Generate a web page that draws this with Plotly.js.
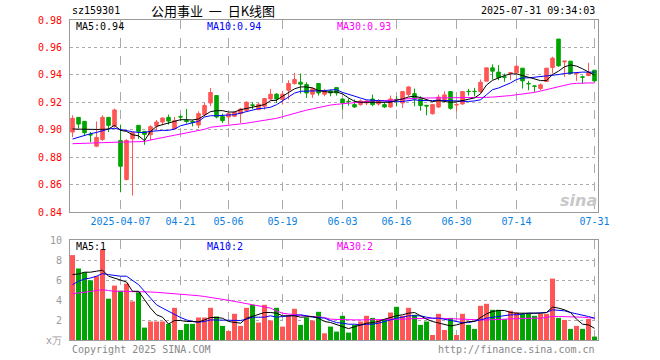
<!DOCTYPE html>
<html>
<head>
<meta charset="utf-8">
<script src="https://cdn.plot.ly/plotly-3.0.1.min.js"></script>
<style>
html,body{margin:0;padding:0;background:#fff;}
#chart{width:660px;height:360px;}
</style>
</head>
<body>
<div id="chart"></div>
<script>
const dates = [
"2025-03-25","2025-03-26","2025-03-27","2025-03-28","2025-03-31",
"2025-04-01","2025-04-02","2025-04-03","2025-04-07","2025-04-08","2025-04-09","2025-04-10","2025-04-11",
"2025-04-14","2025-04-15","2025-04-16","2025-04-17","2025-04-18","2025-04-21","2025-04-22","2025-04-23",
"2025-04-24","2025-04-25","2025-04-28","2025-04-29","2025-04-30",
"2025-05-06","2025-05-07","2025-05-08","2025-05-09","2025-05-12","2025-05-13","2025-05-14","2025-05-15",
"2025-05-16","2025-05-19","2025-05-20","2025-05-21","2025-05-22","2025-05-23","2025-05-26","2025-05-27",
"2025-05-28","2025-05-29","2025-05-30",
"2025-06-03","2025-06-04","2025-06-05","2025-06-06","2025-06-09","2025-06-10","2025-06-11","2025-06-12",
"2025-06-13","2025-06-16","2025-06-17","2025-06-18","2025-06-19","2025-06-20","2025-06-23","2025-06-24",
"2025-06-25","2025-06-26","2025-06-27","2025-06-30",
"2025-07-01","2025-07-02","2025-07-03","2025-07-04","2025-07-07","2025-07-08","2025-07-09","2025-07-10",
"2025-07-11","2025-07-14","2025-07-15","2025-07-16","2025-07-17","2025-07-18","2025-07-21","2025-07-22",
"2025-07-23","2025-07-24","2025-07-25","2025-07-28","2025-07-29","2025-07-30","2025-07-31"];

const openP = [0.8983,0.9090,0.9061,0.8965,0.8880,0.8929,0.9090,0.9027,0.8922,0.8637,
0.8934,0.9032,0.8988,0.8963,0.9027,0.9056,0.9090,0.9005,0.9095,0.9068,
0.9060,0.9034,0.9110,0.9195,0.9249,0.9098,0.9093,0.9098,0.9117,0.9141,
0.9181,0.9146,0.9171,0.9224,0.9259,0.9220,0.9288,0.9337,0.9346,0.9329,
0.9259,0.9337,0.9259,0.9283,0.9307,0.9224,0.9207,0.9183,0.9183,0.9195,
0.9224,0.9188,0.9183,0.9166,0.9222,0.9195,0.9256,0.9263,0.9224,0.9178,
0.9117,0.9166,0.9220,0.9278,0.9181,0.9188,0.9280,0.9280,0.9278,0.9354,
0.9451,0.9420,0.9385,0.9410,0.9415,0.9449,0.9337,0.9319,0.9300,0.9351,
0.9454,0.9661,0.9495,0.9500,0.9408,0.9385,0.9395,0.9434];
const highP = [0.9105,0.9090,0.9061,0.8983,0.9060,0.9105,0.9090,0.9154,0.9037,0.8930,
0.8983,0.9032,0.8990,0.9032,0.9071,0.9090,0.9110,0.9093,0.9110,0.9152,
0.9073,0.9134,0.9195,0.9305,0.9249,0.9117,0.9122,0.9134,0.9159,0.9207,
0.9200,0.9195,0.9232,0.9298,0.9268,0.9283,0.9361,0.9415,0.9410,0.9346,
0.9307,0.9337,0.9298,0.9293,0.9307,0.9224,0.9227,0.9220,0.9220,0.9215,
0.9256,0.9224,0.9195,0.9249,0.9244,0.9280,0.9317,0.9300,0.9244,0.9178,
0.9188,0.9256,0.9280,0.9280,0.9195,0.9280,0.9298,0.9305,0.9366,0.9451,
0.9476,0.9471,0.9410,0.9415,0.9471,0.9449,0.9356,0.9324,0.9337,0.9449,
0.9532,0.9661,0.9500,0.9500,0.9410,0.9395,0.9488,0.9434];
const lowP = [0.8946,0.9010,0.8954,0.8910,0.8873,0.8919,0.8983,0.9015,0.8544,0.8630,
0.8520,0.8934,0.8890,0.8922,0.8995,0.9032,0.9037,0.9005,0.9063,0.9045,
0.9024,0.9012,0.9098,0.9171,0.9083,0.9049,0.9037,0.9093,0.9049,0.9134,
0.9151,0.9146,0.9146,0.9219,0.9195,0.9183,0.9220,0.9329,0.9263,0.9232,
0.9232,0.9249,0.9244,0.9244,0.9249,0.9146,0.9176,0.9159,0.9176,0.9180,
0.9171,0.9176,0.9159,0.9159,0.9171,0.9159,0.9244,0.9171,0.9139,0.9105,
0.9110,0.9159,0.9207,0.9146,0.9134,0.9180,0.9249,0.9244,0.9268,0.9354,
0.9366,0.9361,0.9349,0.9361,0.9410,0.9300,0.9288,0.9276,0.9288,0.9351,
0.9410,0.9459,0.9385,0.9410,0.9356,0.9337,0.9390,0.9349];
const closeP = [0.9083,0.9041,0.8978,0.8962,0.8944,0.9090,0.9032,0.9144,0.8734,0.8922,
0.8978,0.8988,0.8966,0.9022,0.9056,0.9085,0.9063,0.9066,0.9093,0.9060,
0.9055,0.9117,0.9176,0.9271,0.9093,0.9066,0.9117,0.9127,0.9151,0.9200,
0.9178,0.9185,0.9227,0.9259,0.9224,0.9259,0.9337,0.9366,0.9332,0.9268,
0.9298,0.9268,0.9283,0.9268,0.9268,0.9195,0.9205,0.9166,0.9210,0.9210,
0.9183,0.9210,0.9166,0.9224,0.9219,0.9278,0.9312,0.9224,0.9176,0.9173,
0.9183,0.9237,0.9254,0.9156,0.9183,0.9278,0.9278,0.9278,0.9346,0.9451,
0.9427,0.9380,0.9383,0.9415,0.9463,0.9356,0.9335,0.9317,0.9327,0.9449,
0.9522,0.9466,0.9500,0.9410,0.9410,0.9383,0.9415,0.9356];

const ma5 = [0.9005,0.9003,0.9002,0.9000,0.9002,0.9003,0.9005,0.9032,0.8995,0.8988,
0.8963,0.8956,0.8920,0.8988,0.9024,0.9037,0.9049,0.9061,0.9073,0.9073,
0.9071,0.9078,0.9102,0.9132,0.9139,0.9139,0.9129,0.9129,0.9146,0.9156,
0.9166,0.9176,0.9183,0.9212,0.9215,0.9244,0.9268,0.9298,0.9312,0.9312,
0.9305,0.9285,0.9278,0.9273,0.9276,0.9261,0.9232,0.9207,0.9200,0.9200,
0.9198,0.9198,0.9198,0.9200,0.9215,0.9224,0.9239,0.9244,0.9234,0.9220,
0.9205,0.9212,0.9207,0.9200,0.9203,0.9214,0.9220,0.9232,0.9262,0.9326,
0.9360,0.9378,0.9395,0.9407,0.9407,0.9395,0.9383,0.9375,0.9358,0.9358,
0.9402,0.9427,0.9459,0.9472,0.9464,0.9444,0.9420,0.9398];
const ma10 = [0.8932,0.8946,0.8960,0.8971,0.8980,0.8993,0.9005,0.9010,0.9000,0.8995,
0.8985,0.8980,0.8980,0.8988,0.8993,0.8995,0.8995,0.9005,0.9029,0.9041,
0.9049,0.9061,0.9093,0.9102,0.9102,0.9107,0.9107,0.9110,0.9122,0.9134,
0.9144,0.9154,0.9157,0.9164,0.9182,0.9211,0.9243,0.9267,0.9280,0.9280,
0.9280,0.9282,0.9285,0.9290,0.9292,0.9272,0.9260,0.9248,0.9231,0.9218,
0.9213,0.9212,0.9209,0.9204,0.9204,0.9206,0.9213,0.9218,0.9213,0.9211,
0.9212,0.9215,0.9213,0.9208,0.9206,0.9205,0.9206,0.9210,0.9218,0.9255,
0.9292,0.9304,0.9321,0.9341,0.9366,0.9378,0.9378,0.9383,0.9383,0.9390,
0.9395,0.9402,0.9410,0.9415,0.9415,0.9420,0.9420,0.9420];
const ma30 = [0.8898,0.8900,0.8902,0.8905,0.8907,0.8908,0.8910,0.8910,0.8910,0.8910,
0.8911,0.8912,0.8914,0.8925,0.8935,0.8943,0.8952,0.8960,0.8968,0.8976,
0.8985,0.8993,0.9003,0.9018,0.9022,0.9026,0.9031,0.9036,0.9042,0.9048,
0.9055,0.9062,0.9068,0.9074,0.9083,0.9095,0.9108,0.9120,0.9133,0.9143,
0.9152,0.9163,0.9174,0.9180,0.9185,0.9189,0.9194,0.9200,0.9206,0.9210,
0.9213,0.9213,0.9213,0.9214,0.9218,0.9223,0.9227,0.9231,0.9231,0.9231,
0.9231,0.9231,0.9231,0.9231,0.9231,0.9231,0.9232,0.9233,0.9234,0.9236,
0.9238,0.9240,0.9243,0.9249,0.9255,0.9260,0.9266,0.9272,0.9282,0.9292,
0.9302,0.9312,0.9323,0.9334,0.9338,0.9341,0.9341,0.9341];

const volume = [8.49,7.15,6.78,5.97,6.38,9.06,4.13,5.44,4.93,5.64,
3.86,4.77,1.24,1.85,1.85,1.85,1.61,3.22,1.00,1.61,
1.61,2.25,2.25,3.22,2.35,1.41,0.90,2.62,1.41,3.22,
3.52,1.74,3.52,1.95,3.22,1.34,2.42,3.12,1.51,2.25,
1.95,2.82,0.67,1.34,0.84,2.42,0.74,1.51,1.85,2.42,
2.21,2.01,2.01,2.75,3.32,2.42,3.22,2.52,1.51,1.85,
0.50,2.62,1.00,2.21,0.50,2.62,1.51,1.11,3.42,3.62,
3.02,3.02,2.08,2.92,2.75,2.62,2.62,2.42,2.62,2.62,
6.14,2.21,2.01,1.11,1.41,1.11,2.11,0.34];
const vma5 = [6.54,6.60,6.78,6.78,6.88,6.98,6.38,6.20,6.04,5.80,
4.87,4.87,4.03,3.19,2.52,2.28,1.60,1.95,1.95,1.85,
1.85,1.81,2.01,2.25,2.25,2.18,1.85,1.74,1.68,2.18,
2.35,2.58,2.75,2.75,2.68,2.42,2.42,2.42,2.28,2.35,
2.35,2.18,1.85,1.75,1.51,1.34,1.14,1.34,1.51,1.68,
1.74,1.85,2.08,2.28,2.42,2.52,2.68,2.75,2.42,2.08,
1.85,1.68,1.58,1.41,1.51,1.68,1.85,1.85,2.28,2.62,
2.85,2.95,2.95,2.75,2.68,2.68,2.62,2.68,2.68,2.75,
3.29,3.19,3.02,2.75,2.08,1.58,1.51,1.17];
const vma10 = [5.54,5.87,6.10,6.20,6.38,6.64,6.54,6.44,6.38,6.38,
5.97,5.54,4.87,4.19,3.52,3.19,2.85,2.52,2.25,2.01,
1.85,1.78,1.85,2.01,2.01,2.01,1.95,2.01,1.95,2.08,
2.28,2.28,2.28,2.42,2.28,2.35,2.40,2.42,2.52,2.42,
2.28,2.25,2.18,1.95,1.74,1.68,1.58,1.58,1.51,1.58,
1.58,1.68,1.85,2.01,2.18,2.28,2.42,2.42,2.42,2.28,
2.18,2.18,2.08,1.95,1.85,1.74,1.74,1.85,2.01,2.18,
2.28,2.35,2.42,2.52,2.52,2.62,2.68,2.68,2.75,2.75,
3.02,2.95,2.92,2.75,2.62,2.52,2.35,2.18];
const vma30 = [4.63,4.68,4.77,4.85,4.95,5.03,4.95,4.87,4.87,4.87,
4.87,4.85,4.82,4.80,4.77,4.73,4.70,4.65,4.60,4.55,
4.50,4.43,4.35,4.27,4.19,4.08,3.97,3.86,3.75,3.63,
3.52,3.41,3.30,3.19,2.90,2.68,2.60,2.52,2.45,2.40,
2.35,2.30,2.25,2.08,2.05,2.03,2.01,2.01,2.01,2.01,
2.01,2.01,2.01,2.04,2.06,2.08,2.12,2.15,2.18,2.18,
2.18,2.18,2.15,2.12,2.08,2.06,2.04,2.01,2.01,2.01,
2.01,2.05,2.08,2.12,2.15,2.18,2.18,2.18,2.18,2.26,
2.35,2.35,2.35,2.35,2.32,2.28,2.23,2.18];

const tickDates = ["2025-04-07","2025-04-21","2025-05-06","2025-05-19","2025-06-03","2025-06-16","2025-06-30","2025-07-14","2025-07-31"];
const tickLabels = ["2025-04-07","04-21","05-06","05-19","06-03","06-16","06-30","07-14","07-31"];
const priceTicks = [0.84,0.86,0.88,0.90,0.92,0.94,0.96,0.98];
const volTicks = [0,2,4,6,8,10];
const volTickLabels = ["x万","2","4","6","8","10"];

const RED = '#ff5555', GREEN = '#00a400';
const MONO = 'DejaVu Sans Mono, Liberation Mono, monospace';
const volColors = closeP.map((c,i)=> c >= openP[i] ? RED : GREEN);

const traces = [
  {type:'candlestick', x:dates, open:openP, high:highP, low:lowP, close:closeP,
   xaxis:'x', yaxis:'y', whiskerwidth:0,
   increasing:{line:{color:RED,width:1}, fillcolor:RED},
   decreasing:{line:{color:GREEN,width:1}, fillcolor:GREEN},
   hoverinfo:'skip', showlegend:false},
  {type:'scatter', mode:'lines', x:dates, y:ma30, line:{color:'#ff00ff',width:1}, xaxis:'x', yaxis:'y', showlegend:false, hoverinfo:'skip'},
  {type:'scatter', mode:'lines', x:dates, y:ma10, line:{color:'#0000ff',width:1}, xaxis:'x', yaxis:'y', showlegend:false, hoverinfo:'skip'},
  {type:'scatter', mode:'lines', x:dates, y:ma5, line:{color:'#000000',width:1}, xaxis:'x', yaxis:'y', showlegend:false, hoverinfo:'skip'},
  {type:'bar', x:dates, y:volume, marker:{color:volColors, line:{width:0}}, xaxis:'x2', yaxis:'y2', showlegend:false, hoverinfo:'skip'},
  {type:'scatter', mode:'lines', x:dates, y:vma30, line:{color:'#ff00ff',width:1}, xaxis:'x2', yaxis:'y2', showlegend:false, hoverinfo:'skip'},
  {type:'scatter', mode:'lines', x:dates, y:vma10, line:{color:'#0000ff',width:1}, xaxis:'x2', yaxis:'y2', showlegend:false, hoverinfo:'skip'},
  {type:'scatter', mode:'lines', x:dates, y:vma5, line:{color:'#000000',width:1}, xaxis:'x2', yaxis:'y2', showlegend:false, hoverinfo:'skip'}
];

const px2x = p => (p-70)/528;
const px2y = p => (340-p)/320;
function ann(text, xpx, ypx, color, anchor, size, family){
  return {text:text, x:px2x(xpx), y:px2y(ypx), xref:'paper', yref:'paper',
    xanchor:anchor, yanchor:'middle', showarrow:false,
    font:{family:family||MONO, size:size||10, color:color}};
}

const xCommon = {
  type:'category', range:[-0.42, 87.58], tickmode:'array', tickvals:tickDates,
  showgrid:true, gridcolor:'#aaaaaa', griddash:'dash', gridwidth:1,
  showline:true, mirror:true, linecolor:'#999999', linewidth:1,
  ticks:'', zeroline:false, fixedrange:true
};

const layout = {
  width:660, height:360,
  margin:{l:70, r:62, t:20, b:20, pad:0},
  paper_bgcolor:'#ffffff', plot_bgcolor:'#ffffff',
  showlegend:false, bargap:0.17, boxgap:0.15,
  font:{family:MONO, size:10},
  xaxis:Object.assign({}, xCommon, {anchor:'y', ticktext:tickLabels, showticklabels:true,
     tickfont:{family:MONO, size:10, color:'#0a7fe0'}, rangeslider:{visible:false}}),
  xaxis2:Object.assign({}, xCommon, {anchor:'y2', matches:'x', showticklabels:false, ticktext:tickLabels}),
  yaxis:{domain:[0.4,1], range:[0.84,0.98], tickmode:'array', tickvals:priceTicks,
     tickformat:'.2f', tickfont:{family:MONO, size:10, color:'#ff0000'},
     showgrid:true, gridcolor:'#aaaaaa', griddash:'dot', showline:true, mirror:true,
     linecolor:'#999999', linewidth:1, zeroline:false, ticks:'', ticklabelstandoff:5, fixedrange:true},
  yaxis2:{domain:[0,0.3125], range:[0,10], tickmode:'array', tickvals:volTicks, ticktext:volTickLabels,
     tickfont:{family:MONO, size:10, color:'#999999'},
     showgrid:true, gridcolor:'#aaaaaa', griddash:'dot', showline:true, mirror:true,
     linecolor:'#999999', linewidth:1, zeroline:false, ticks:'', ticklabelstandoff:5, fixedrange:true},
  annotations:[
    ann('sz159301', 70, 10, '#000000', 'left', 10),
    ann('公用事业\u00a0\u00a0一\u00a0\u00a0日K线图', 213, 10, '#000000', 'center', 13, 'Noto Sans CJK SC'),
    ann('2025-07-31 09:34:03', 597, 10, '#000000', 'right', 10),
    ann('MA5:0.94', 74, 27, '#000000', 'left', 10),
    ann('MA10:0.94', 205, 27, '#0000ff', 'left', 10),
    ann('MA30:0.93', 335, 27, '#ff00ff', 'left', 10),
    ann('MA5:1', 74, 246, '#000000', 'left', 10),
    ann('MA10:2', 205, 246, '#0000ff', 'left', 10),
    ann('MA30:2', 335, 246, '#ff00ff', 'left', 10),
    ann('Copyright 2025 SINA.COM', 70, 349, '#888888', 'left', 10),
    ann('http://finance.sina.com.cn', 597, 349, '#888888', 'right', 10),
    ann('<b><i>sina</i></b>', 578, 200, '#c8c8c8', 'center', 16, 'DejaVu Sans')
  ]
};

Plotly.newPlot('chart', traces, layout, {staticPlot:true, displayModeBar:false});
</script>
</body>
</html>
